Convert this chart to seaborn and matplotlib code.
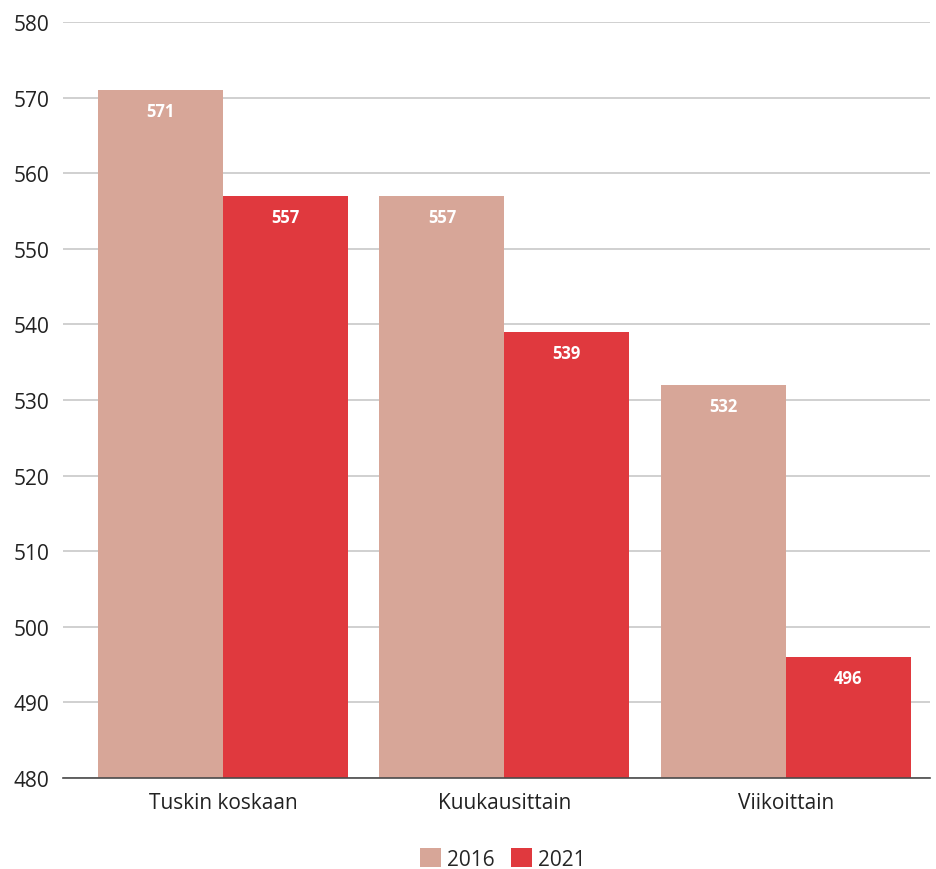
import matplotlib
matplotlib.use("Agg")
import matplotlib.pyplot as plt
import seaborn as sns
import pandas as pd

categories = ["Tuskin koskaan", "Kuukausittain", "Viikoittain"]
years = ["2016", "2021"]
values_2016 = [571, 557, 532]
values_2021 = [557, 539, 496]
yticks = [480, 490, 500, 510, 520, 530, 540, 550, 560, 570, 580]

df = pd.DataFrame({
    "Kategoria": categories * 2,
    "Vuosi": [years[0]] * 3 + [years[1]] * 3,
    "Arvo": values_2016 + values_2021,
})

sns.set_theme(style="white")
plt.rcParams["font.family"] = ["Open Sans", "DejaVu Sans"]

palette = {"2016": "#D7A698", "2021": "#E0393E"}

fig = plt.figure(figsize=(9.36, 8.7), dpi=100)
ax = fig.add_axes([63 / 936, 1 - 779 / 870, (930 - 63) / 936, (779 - 23) / 870])

sns.barplot(data=df, x="Kategoria", y="Arvo", hue="Vuosi", order=categories,
            hue_order=years, palette=palette, width=0.888, gap=0,
            saturation=1, linewidth=0, ax=ax, legend=True)

ax.set_ylim(480, 580)
ax.set_xlim(-0.568, 2.512)
ax.set_yticks(yticks)
ax.yaxis.grid(True, color="#C4C4C4", linewidth=1.1)
ax.set_axisbelow(True)
for s in ["top", "right", "left"]:
    ax.spines[s].set_visible(False)
ax.spines["bottom"].set_color("#4a4a4a")
ax.spines["bottom"].set_linewidth(1.2)
ax.spines["bottom"].set_zorder(5)
ax.set_xlabel("")
ax.set_ylabel("")
ax.tick_params(axis="y", length=0, pad=10, labelsize=15, labelcolor="#222222")
ax.tick_params(axis="x", length=0, pad=10, labelsize=15, labelcolor="#222222")

for container in ax.containers:
    for bar in container:
        h = bar.get_height()
        ax.annotate(f"{h:.0f}", (bar.get_x() + bar.get_width() / 2, h),
                    xytext=(0, -15), textcoords="offset points",
                    ha="center", va="center", color="white",
                    fontsize=12, fontweight="bold")

handles, labels = ax.get_legend_handles_labels()
ax.legend_.remove()
fig.legend(handles, labels, loc="center", bbox_to_anchor=(503 / 936, 1 - 860 / 870),
           ncol=2, frameon=False, fontsize=15, handlelength=1.0, handleheight=1.0,
           handletextpad=0.3, columnspacing=0.8)

fig.savefig("out.png", dpi=100)
